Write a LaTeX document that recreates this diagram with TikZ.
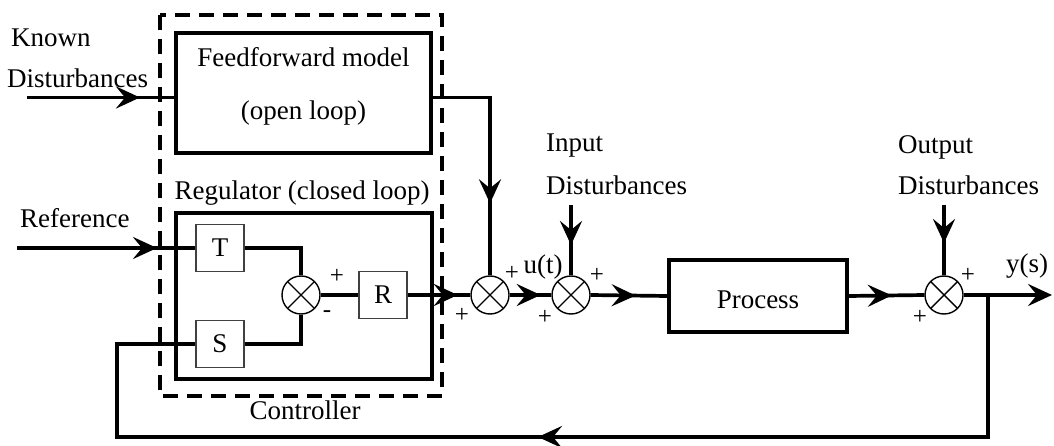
\documentclass[tikz,border=0pt]{standalone}
\usepackage{fontspec}
\setmainfont{Liberation Serif}
\usetikzlibrary{arrows.meta,decorations.markings}

\tikzset{
  wire/.style={line width=3.7},
  midarrow/.style={postaction={decorate},decoration={markings,
    mark=at position #1 with {\arrow{Stealth[length=24pt,width=22pt,inset=9pt]}}}},
  bigbox/.style={draw,line width=3.7,inner sep=0},
  smallbox/.style={draw=black!75,line width=1.6,minimum width=48,minimum height=47,inner sep=0,
    font=\fontsize{27}{32}\selectfont},
  sum/.style={circle,draw,line width=1.4,minimum size=38,inner sep=0,
    path picture={\draw[line width=1.4]
      (path picture bounding box.south west) -- (path picture bounding box.north east)
      (path picture bounding box.north west) -- (path picture bounding box.south east);}},
  txt/.style={inner sep=0,font=\fontsize{27}{32}\selectfont},
  sign/.style={inner sep=0,font=\fontsize{25}{28}\selectfont},
}

\begin{document}
\begin{tikzpicture}[x=1pt,y=-1pt]
\useasboundingbox (0,0) rectangle (1054,446);

% controller frame
\draw[line width=3.7,dash pattern=on 15pt off 9pt] (160,15) rectangle (442,396);
\node[txt] (ctl) at (305,410) {Controller};

% feedforward block
\node[bigbox,minimum width=255,minimum height=120] (ff) at (303.5,93) {};
\node[txt] (ffa) at (303.5,57) {Feedforward model};
\node[txt] (ffb) at (303.5,113) {(open loop)};

% regulator block
\node[bigbox,minimum width=256,minimum height=166] (reg) at (304,296) {};
\node[txt] (regt) at (302,193) {Regulator (closed loop)};
\node[smallbox] (T) at (220,248) {T};
\node[smallbox] (S) at (220,344) {S};
\node[sum] (s0) at (301,295) {};
\node[smallbox] (R) at (383,295) {R};
\node[sign] (p0) at (337,276) {+};
\node[sign] (m0) at (327,314) {-};

% forward path
\node[sum] (s1) at (490,295) {};
\node[sum] (s2) at (571,295) {};
\node[draw,line width=3.7,minimum width=178,minimum height=72,inner sep=0] (P) at (758,296) {};
\node[txt] (Pt) at (758,300) {Process};
\node[sum] (s3) at (944,295) {};

% signs and signal names
\node[sign] (p1a) at (512,273) {+};
\node[sign] (p1b) at (462,315) {+};
\node[sign] (p2a) at (597,275) {+};
\node[sign] (p2b) at (545,317) {+};
\node[sign] (p3a) at (968,275) {+};
\node[sign] (p3b) at (920,317) {+};
\node[txt] (ut) at (543,267) {u(t)};
\node[txt] (ys) at (1027,266) {y(s)};

% external inputs
\node[txt,anchor=west] (kn1) at (11,38) {Known};
\node[txt,anchor=west] (kn2) at (7,78) {Disturbances};
\node[txt,anchor=west] (refl) at (20,218) {Reference};
\node[txt,anchor=west] (in1) at (546,146) {Input};
\node[txt,anchor=west] (in2) at (546,185) {Disturbances};
\node[txt,anchor=west] (out1) at (898,147) {Output};
\node[txt,anchor=west] (out2) at (898,185) {Disturbances};

\coordinate (kd) at (27,97.5);
\coordinate (ref) at (17,248);
\coordinate (id) at (571,205);
\coordinate (od) at (944,205);
\coordinate (yend) at (1052,295);
\coordinate (fb) at (988,295);
\coordinate (fbr) at (988,437);
\coordinate (fbl) at (117,437);

% connectors
\draw[wire,midarrow=113pt] (kd) -- (kd -| ff.west);
\draw[wire,midarrow=163pt] (kd -| ff.east) -| (s1.north);
\draw[wire,midarrow=140pt] (ref) -- (T.west);
\draw[wire] (T.east) -| (s0.north);
\draw[wire] (S.east) -| (s0.south);
\draw[wire] (s0.east) -- (R.west);
\draw[wire,midarrow=50pt] (R.east) -- (s1.west);
\draw[wire,midarrow=31pt] (s1.east) -- (s2.west);
\draw[wire,midarrow=45pt] (s2.east) -- (P.west);
\draw[wire,midarrow=43pt] (P.east) -- (s3.west);
\draw[wire,-{Stealth[length=24pt,width=22pt,inset=9pt]}] (s3.east) -- (yend);
\draw[wire,midarrow=40pt] (id) -- (s2.north);
\draw[wire,midarrow=38pt] (od) -- (s3.north);
\draw[wire,midarrow=592pt] (fb) -- (fbr) -- (fbl) |- (S.west);
\end{tikzpicture}
\end{document}
